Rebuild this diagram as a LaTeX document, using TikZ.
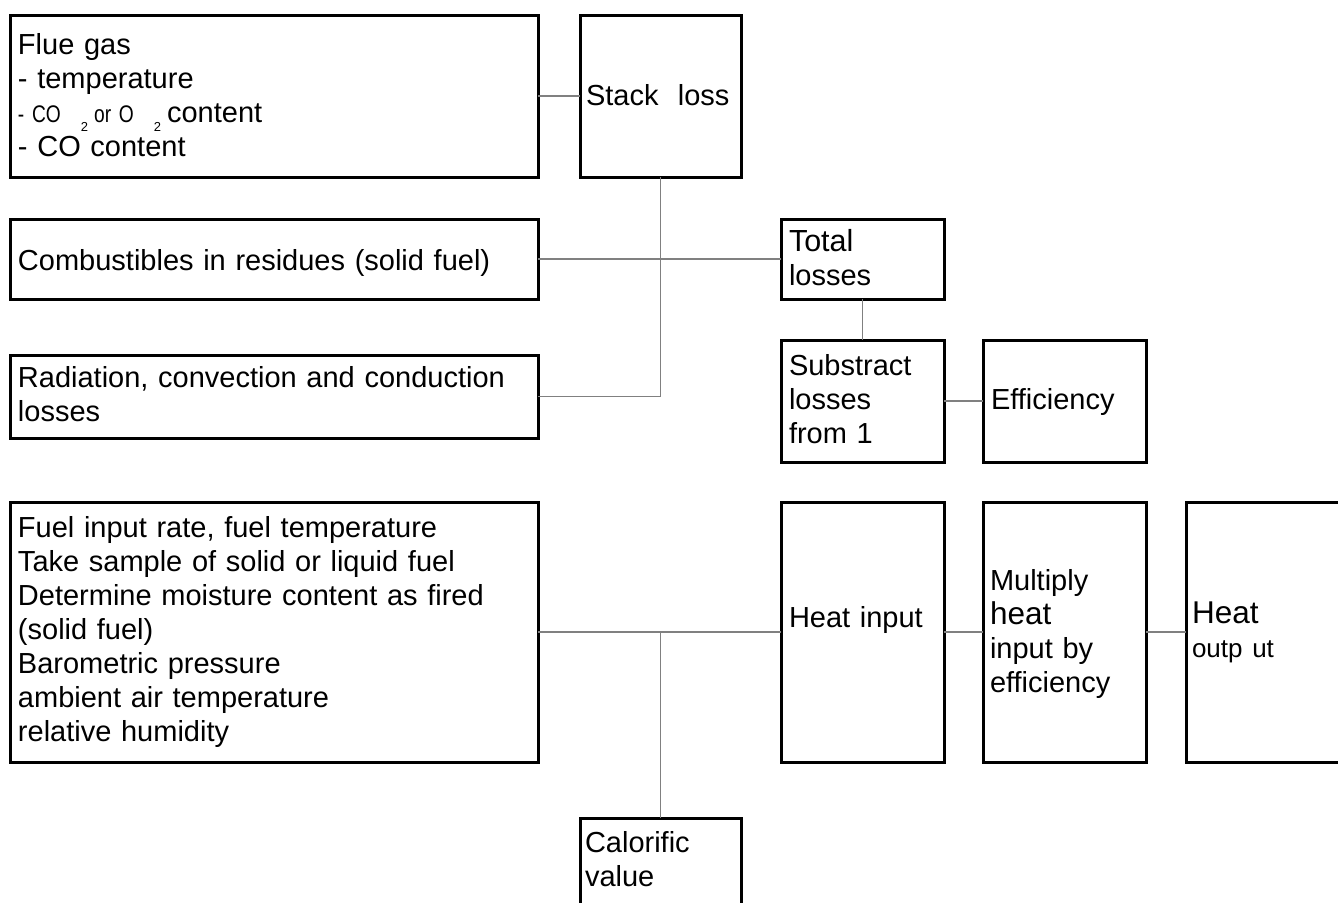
\documentclass[tikz,border=0pt]{standalone}
\usepackage{fontspec}
\usepackage{graphicx}
\setmainfont{Liberation Sans}
\usetikzlibrary{fit}
\newcommand{\bigsz}{\fontsize{15.75pt}{17pt}\selectfont}
\newcommand{\midsz}{\fontsize{15.25pt}{17pt}\selectfont}
\newcommand{\smsz}{\fontsize{12pt}{13pt}\selectfont}
\newcommand{\narrow}[1]{\scalebox{0.8}[1]{\smsz #1}}
\newcommand{\subtwo}{\raisebox{-4.5pt}{\fontsize{6.5pt}{7pt}\selectfont 2}}
\begin{document}
\begin{tikzpicture}[x=0.5pt,y=-0.5pt,
  box/.style={draw=black, line width=1.5pt, inner sep=0pt, outer sep=0pt, rectangle},
  conn/.style={draw=black!50, line width=0.7pt},
  txt/.style={anchor=base west, inner sep=0pt, outer sep=0pt, align=left, text width=270pt,
    font=\fontsize{14.5pt}{17pt}\selectfont}]
\useasboundingbox (0,0) rectangle (1338,902);
\clip (0,0) rectangle (1338,902);
\fill[white] (0,0) rectangle (1338,902);

% boxes
\node[box, fit={(10,15)(538,177)}] (flue) {};
\node[box, fit={(580,15)(741,177)}] (stack) {};
\node[box, fit={(10,219)(538,299)}] (comb) {};
\node[box, fit={(10,355)(538,438)}] (rad) {};
\node[box, fit={(781,219)(944,299)}] (total) {};
\node[box, fit={(781,340)(944,462)}] (sub) {};
\node[box, fit={(983,340)(1146,462)}] (eff) {};
\node[box, fit={(10,502)(538,762)}] (fuel) {};
\node[box, fit={(781,502)(944,762)}] (heatin) {};
\node[box, fit={(983,502)(1146,762)}] (mult) {};
\node[box, fit={(1186,502)(1349,762)}] (hout) {};
\node[box, fit={(580,818)(741,940)}] (cal) {};

% connectors
\draw[conn] (flue.east) -- (stack.west);
\draw[conn] (comb.east) -- (total.west);
\draw[conn] (stack.south) -- (stack.south |- rad.east) -- (rad.east);
\draw[conn] (total.south) -- (sub.north);
\draw[conn] (sub.east) -- (eff.west);
\draw[conn] (fuel.east) -- (heatin.west);
\draw[conn] (cal.north) -- (cal.north |- fuel.east);
\draw[conn] (heatin.east) -- (mult.west);
\draw[conn] (mult.east) -- (hout.west);

% texts
\node[txt] (fluetxt) at (18,54) {Flue gas\\- temperature\\\narrow{- CO}\hspace{10pt}\subtwo\hspace{3pt}\narrow{or O}\hspace{10pt}\subtwo\hspace{3pt}content\\- CO content};
\node[txt] (stacktxt) at (586,105) {Stack\ \ loss};
\node[txt] (combtxt) at (18,270) {Combustibles in residues (solid fuel)};
\node[txt] (radtxt) at (18,387) {Radiation, convection and conduction\\losses};
\node[txt] (totaltxt) at (789,251) {{\midsz Total}\\losses};
\node[txt] (subtxt) at (789,375) {Substract\\losses\\from 1};
\node[txt] (efftxt) at (991,409) {Efficiency};
\node[txt] (fueltxt) at (18,537) {Fuel input rate, fuel temperature\\Take sample of solid or liquid fuel\\Determine moisture content as fired\\(solid fuel)\\Barometric pressure\\ambient air temperature\\relative humidity};
\node[txt] (heatintxt) at (789,627) {Heat input};
\node[txt] (multtxt) at (990,590) {Multiply\\{\bigsz heat}\\input by\\efficiency};
\node[txt] (houttxt) at (1192,623) {{\bigsz Heat}\\{\fontsize{13pt}{17pt}\selectfont outp ut}};
\node[txt] (caltxt) at (585,852) {Calorific\\value};
\end{tikzpicture}
\end{document}
